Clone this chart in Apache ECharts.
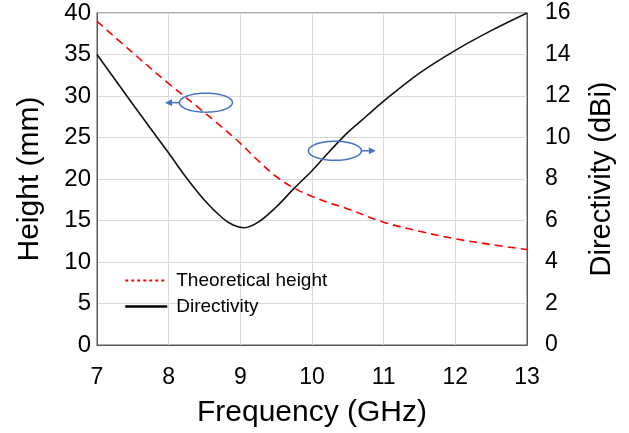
<!DOCTYPE html>
<html>
<head>
<meta charset="utf-8">
<script src="https://cdn.jsdelivr.net/npm/echarts@6/dist/echarts.min.js"></script>
<style>html,body{margin:0;padding:0;background:#fff}#c{width:629px;height:433px}</style>
</head>
<body>
<div id="c"></div>
<script>
// Data
const freqHeight = [7.0, 7.5, 8.0, 8.5, 8.75, 9.0, 9.25, 9.5, 9.75, 10.0, 10.25, 10.5, 11.0, 11.5, 12.0, 12.5, 13.0];
const heightMM   = [39.0, 35.2, 31.5, 28.0, 26.2, 24.3, 22.2, 20.3, 18.9, 17.9, 17.1, 16.4, 14.8, 13.7, 12.8, 12.1, 11.5];
const freqDir    = [7.0, 7.5, 8.0, 8.25, 8.5, 8.75, 8.9, 9.05, 9.25, 9.5, 9.75, 10.0, 10.25, 10.5, 10.75, 11.0, 11.5, 12.0, 12.5, 13.0];
const directivity= [14.0, 11.6, 9.25, 8.05, 6.98, 6.12, 5.78, 5.65, 5.92, 6.65, 7.55, 8.4, 9.35, 10.25, 11.0, 11.75, 13.1, 14.2, 15.15, 16.0];
const seriesNames = ['Theoretical height', 'Directivity'];
const xTicks = [7, 8, 9, 10, 11, 12, 13];
// annotation anchors (data coords, left axis): [centerX, centerY, arrowTipX]
const noteLeft  = [8.52, 29.2, 7.95];
const noteRight = [10.32, 23.4, 10.89];

const FONT = 'Liberation Sans, Arial, sans-serif';
const chart = echarts.init(document.getElementById('c'), null, {renderer: 'canvas'});
const option = {
  animation: false,
  backgroundColor: '#fff',
  grid: {left: 97, right: 102, top: 13, bottom: 87, show: true, borderColor: '#595959', borderWidth: 1},
  legend: {
    orient: 'vertical', left: 124, top: 271, padding: 0, itemGap: 7, itemWidth: 42, itemHeight: 14,
    textStyle: {fontFamily: FONT, fontSize: 19, color: '#000', padding: [0, 0, 0, 4]},
    data: [
      {name: seriesNames[0], itemStyle: {opacity: 0}, lineStyle: {type: [3, 3], width: 2, color: '#ff0000'}},
      {name: seriesNames[1], itemStyle: {opacity: 0}, lineStyle: {type: 'solid', width: 2.5, color: '#000'}}
    ]
  },
  xAxis: {
    type: 'value', min: xTicks[0], max: xTicks[xTicks.length - 1], interval: 1,
    name: 'Frequency (GHz)', nameLocation: 'middle', nameGap: 53,
    nameTextStyle: {fontFamily: FONT, fontSize: 30, color: '#000'},
    axisLine: {lineStyle: {color: '#595959'}}, axisTick: {show: false},
    axisLabel: {fontFamily: FONT, fontSize: 23, color: '#000', margin: 21},
    splitLine: {show: true, lineStyle: {color: '#d9d9d9', width: 1}}
  },
  yAxis: [
    {
      type: 'value', min: 0, max: 40, interval: 5, position: 'left',
      name: 'Height (mm)', nameLocation: 'middle', nameGap: 52, nameRotate: 90,
      nameTextStyle: {fontFamily: FONT, fontSize: 30, color: '#000'},
      axisLine: {show: true, lineStyle: {color: '#595959'}}, axisTick: {show: false},
      axisLabel: {fontFamily: FONT, fontSize: 24, color: '#000', margin: 6},
      splitLine: {show: true, lineStyle: {color: '#d9d9d9', width: 1}}
    },
    {
      type: 'value', min: 0, max: 16, interval: 2, position: 'right',
      name: 'Directivity (dBi)', nameLocation: 'middle', nameGap: 60, nameRotate: 90,
      nameTextStyle: {fontFamily: FONT, fontSize: 29, color: '#000', verticalAlign: 'top'},
      axisLine: {show: true, lineStyle: {color: '#595959'}}, axisTick: {show: false},
      axisLabel: {fontFamily: FONT, fontSize: 23, color: '#000', margin: 18},
      splitLine: {show: false}
    }
  ],
  series: [
    {
      name: seriesNames[0], type: 'line', yAxisIndex: 0, smooth: 0.35, symbol: 'none',
      data: freqHeight.map((f, i) => [f, heightMM[i]]),
      lineStyle: {color: '#ff0000', width: 1.6, type: [8, 5]}, itemStyle: {color: '#ff0000'}
    },
    {
      name: seriesNames[1], type: 'line', yAxisIndex: 1, smooth: 0.35, symbol: 'none',
      data: freqDir.map((f, i) => [f, directivity[i]]),
      lineStyle: {color: '#111', width: 1.6, type: 'solid'}, itemStyle: {color: '#000'}
    }
  ]
};
chart.setOption(option);

function ellipsePts(cx, cy, rx, ry) {
  const pts = [];
  for (let i = 0; i < 72; i++) {
    const a = i / 72 * Math.PI * 2;
    pts.push([cx + rx * Math.cos(a), cy + ry * Math.sin(a)]);
  }
  return pts;
}
function note(n, dir) {
  const c = chart.convertToPixel({xAxisIndex: 0, yAxisIndex: 0}, [n[0], n[1]]);
  const tip = chart.convertToPixel({xAxisIndex: 0, yAxisIndex: 0}, [n[2], n[1]]);
  const rx = 26.5, ry = 9.5, blue = '#4472c4';
  const startX = c[0] + dir * rx;
  const ah = 7;
  return [
    {type: 'polygon', shape: {points: ellipsePts(c[0], c[1], rx, ry)}, style: {fill: 'none', stroke: blue, lineWidth: 1.5}, z: 100},
    {type: 'line', shape: {x1: startX, y1: c[1], x2: tip[0] - dir * ah, y2: c[1]}, style: {stroke: blue, lineWidth: 1.5}, z: 100},
    {type: 'polygon', shape: {points: [[tip[0], c[1]], [tip[0] - dir * ah, c[1] - 3.5], [tip[0] - dir * ah, c[1] + 3.5]]}, style: {fill: blue}, z: 100}
  ];
}
chart.setOption({graphic: [].concat(note(noteLeft, -1), note(noteRight, 1))});
</script>
</body>
</html>
